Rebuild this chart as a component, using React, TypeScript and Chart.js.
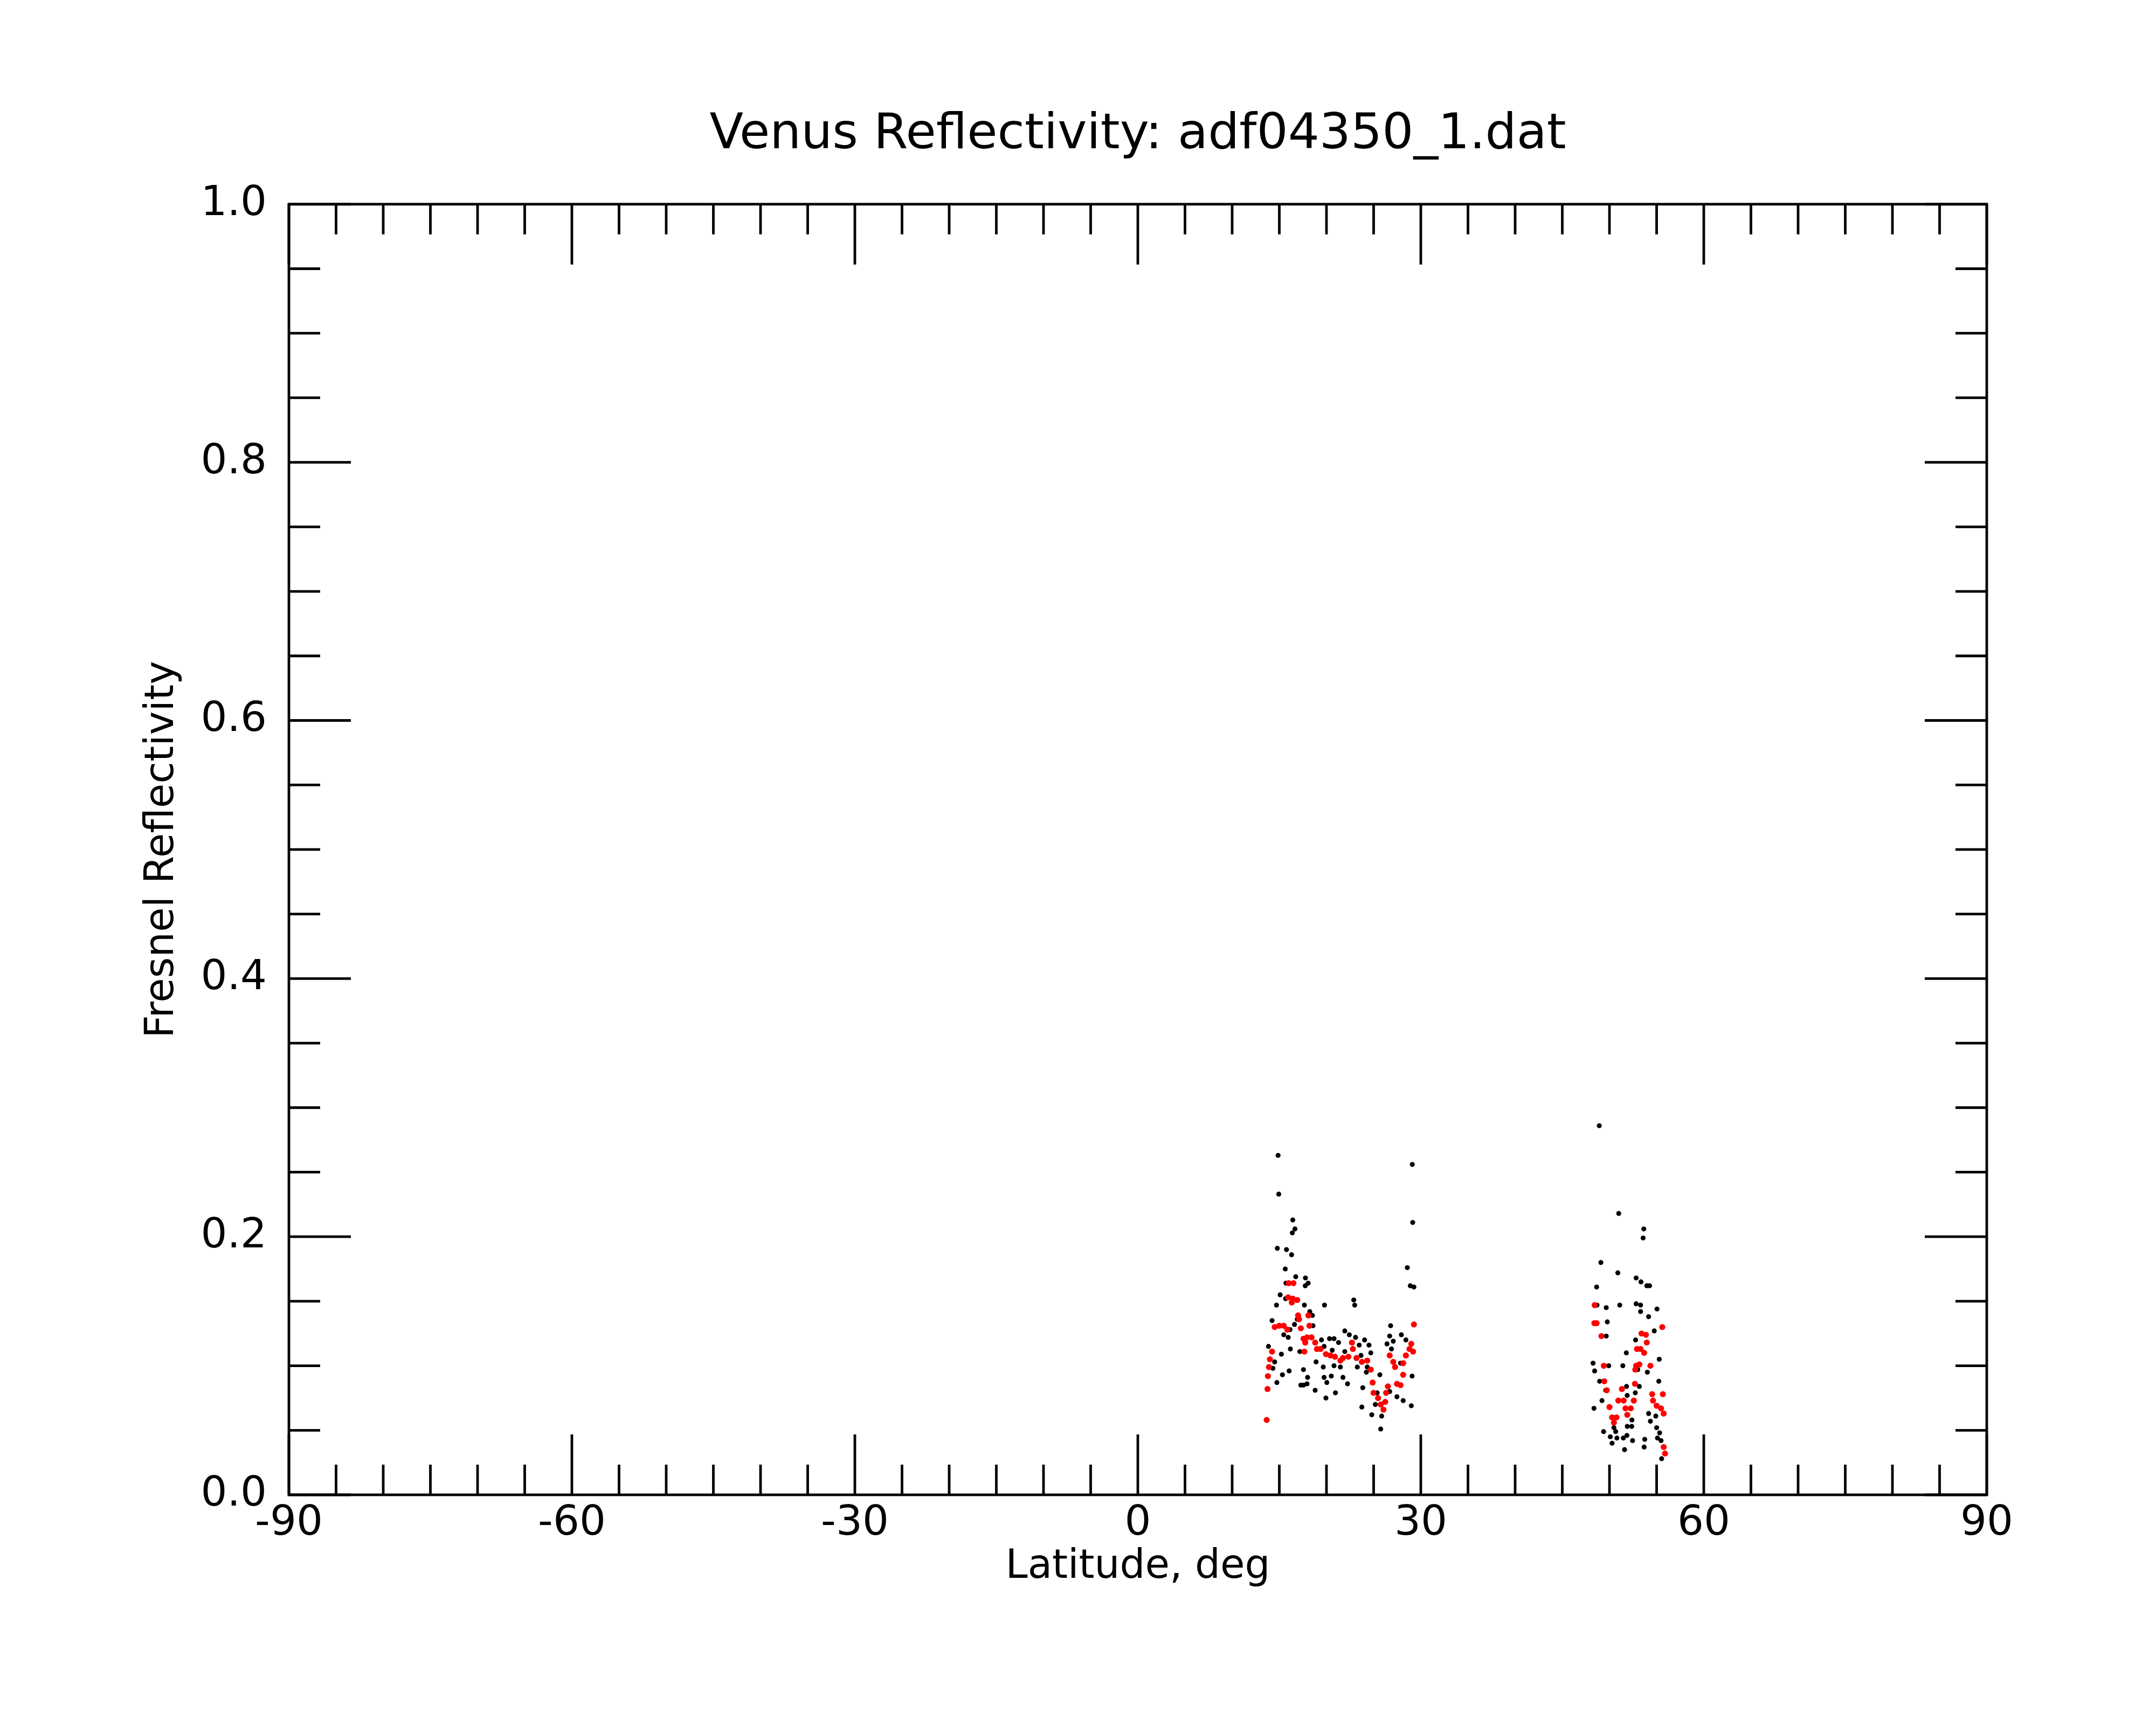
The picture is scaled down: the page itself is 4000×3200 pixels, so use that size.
import React, { useEffect, useRef } from 'react';
import { Chart, registerables } from 'chart.js';

Chart.register(...registerables);

// raw samples (black): latitude (deg) / Fresnel reflectivity
const rawLat = [
  14.87, 14.94, 16.43, 16.66, 16.38, 14.79, 15.76, 16.3, 15.63, 16.74, 17.77, 18.06, 15.7, 17.75,
  29.1, 29.14, 28.57, 28.89, 29.27,
  15.09, 15.66, 14.7, 16.9, 17.66, 19.79, 18.23, 18.51, 16.9, 14.23, 16.61, 18.57, 16.13, 15.47,
  15.94, 19.47, 20.32, 20.8, 21.28, 19.75, 13.85, 15.22, 16.17, 17.18, 20.61, 18.9, 19.66, 20.8,
  21.47, 14.51, 14.32, 16.04, 15.33, 17.56, 18.0, 19.75, 20.51, 20.04, 14.74, 17.56, 17.94, 17.28,
  18.8, 20.95, 19.94,
  22.89, 22.99, 26.8, 21.94, 22.42, 23.08, 24.04, 24.51, 23.47, 26.7, 27.94, 27.08, 28.42, 26.42,
  26.89, 21.94, 24.7, 23.66, 23.27, 24.23, 24.32, 25.66, 21.75, 22.23, 23.85, 29.08, 25.37, 26.7,
  27.47, 28.13, 28.99, 23.75, 25.18, 24.8, 25.85, 25.75, 27.85,
  48.92, 50.98, 53.64, 53.57, 49.09, 50.89, 48.64, 52.83, 53.34, 53.96, 54.25, 49.66, 51.09, 52.83,
  53.3, 53.3, 55.04, 54.15, 49.77, 49.66, 54.75, 52.77, 51.79, 55.28, 48.26, 48.43, 49.92, 51.42,
  54.02, 55.23, 48.96, 53.17, 51.81, 52.74, 49.21, 48.36, 51.88, 54.15, 54.34, 54.91, 52.38, 51.89,
  52.36, 55.0, 55.32, 49.38, 50.09, 50.66, 50.79, 50.28, 51.47, 51.85, 52.45, 53.74, 51.6, 53.68,
  55.09, 55.47, 55.53, 48.68, 49.6, 50.47, 53.0,
];
const rawRefl = [
  0.263, 0.233, 0.213, 0.206, 0.203, 0.191, 0.19, 0.186, 0.175, 0.169, 0.168, 0.164, 0.164, 0.162,
  0.256, 0.211, 0.176, 0.162, 0.161,
  0.155, 0.152, 0.147, 0.151, 0.147, 0.147, 0.142, 0.139, 0.136, 0.135, 0.132, 0.131, 0.128, 0.124,
  0.122, 0.12, 0.121, 0.121, 0.118, 0.115, 0.115, 0.109, 0.113, 0.111, 0.112, 0.103, 0.099, 0.1,
  0.099, 0.103, 0.098, 0.096, 0.093, 0.097, 0.091, 0.091, 0.092, 0.087, 0.087, 0.085, 0.086, 0.085,
  0.081, 0.079, 0.075,
  0.151, 0.147, 0.131, 0.127, 0.124, 0.122, 0.12, 0.116, 0.116, 0.123, 0.124, 0.119, 0.12, 0.117,
  0.113, 0.111, 0.11, 0.108, 0.099, 0.095, 0.099, 0.093, 0.091, 0.086, 0.083, 0.092, 0.079, 0.08,
  0.076, 0.073, 0.069, 0.068, 0.07, 0.062, 0.061, 0.051, 0.102,
  0.286, 0.218, 0.206, 0.199, 0.18, 0.172, 0.161, 0.168, 0.165, 0.162, 0.162, 0.145, 0.147, 0.148,
  0.147, 0.142, 0.144, 0.138, 0.134, 0.123, 0.127, 0.12, 0.11, 0.105, 0.102, 0.096, 0.1, 0.1,
  0.095, 0.088, 0.088, 0.084, 0.084, 0.079, 0.073, 0.067, 0.077, 0.063, 0.057, 0.061, 0.058, 0.053,
  0.053, 0.052, 0.048, 0.049, 0.045, 0.049, 0.044, 0.04, 0.044, 0.046, 0.042, 0.043, 0.035, 0.037,
  0.044, 0.042, 0.028, 0.147, 0.081, 0.052, 0.097,
];

// smoothed samples (red)
const smoothLat = [
  16.0, 16.5, 15.94, 16.42, 16.9, 16.32, 16.99, 18.08, 17.09, 14.51, 14.99, 15.47, 15.85, 17.28,
  18.19, 17.56, 17.94, 18.42, 17.75, 18.8, 18.99, 19.37, 19.94, 20.42, 20.9, 21.47, 14.23, 17.66,
  14.0, 13.9, 13.79, 13.75, 13.66,
  29.27, 22.7, 22.8, 21.75, 22.32, 23.18, 23.75, 24.32, 24.7, 24.89, 24.99, 25.47, 25.75, 26.04,
  26.23, 26.32, 26.51, 26.7, 27.08, 27.27, 28.13, 28.13, 27.47, 27.85, 28.42, 28.8, 28.99, 29.18,
  48.43, 48.64, 48.4, 49.15, 49.4, 49.45, 49.72, 50.0, 50.28, 50.47, 50.75, 51.32, 50.94, 51.51,
  51.7, 51.89, 52.26, 52.58, 52.7, 52.83, 52.74, 53.17, 52.92, 53.3, 53.68, 53.4, 53.87, 53.96,
  54.34, 55.6, 54.53, 55.66, 54.62, 55.0, 55.47, 55.75, 55.75, 55.89,
];
const smoothRefl = [
  0.164, 0.164, 0.153, 0.152, 0.151, 0.149, 0.139, 0.139, 0.136, 0.13, 0.131, 0.131, 0.128, 0.129,
  0.131, 0.121, 0.122, 0.122, 0.118, 0.118, 0.113, 0.113, 0.109, 0.108, 0.107, 0.104, 0.111, 0.111,
  0.105, 0.099, 0.092, 0.082, 0.058,
  0.132, 0.118, 0.113, 0.106, 0.107, 0.106, 0.103, 0.104, 0.097, 0.087, 0.079, 0.075, 0.07, 0.066,
  0.072, 0.079, 0.084, 0.108, 0.103, 0.099, 0.102, 0.093, 0.086, 0.085, 0.108, 0.113, 0.117, 0.111,
  0.147, 0.133, 0.133, 0.123, 0.1, 0.088, 0.081, 0.068, 0.06, 0.056, 0.06, 0.082, 0.073, 0.073,
  0.067, 0.062, 0.067, 0.073, 0.086, 0.1, 0.097, 0.101, 0.113, 0.113, 0.11, 0.125, 0.124, 0.118,
  0.1, 0.13, 0.078, 0.078, 0.073, 0.069, 0.067, 0.063, 0.037, 0.032,
];

const xTickValues = [-90, -60, -30, 0, 30, 60, 90];
const yTickValues = [0, 0.2, 0.4, 0.6, 0.8, 1.0];
const xMinorStep = 5;
const yMinorStep = 0.05;

const FONT = "'DejaVu Sans', sans-serif";

// IDL-style frame: box on all four sides with ticks pointing inwards
const frameTicks = {
  id: 'frameTicks',
  afterDraw(chart: any) {
    const { ctx, chartArea } = chart;
    const { left, right, top, bottom } = chartArea;
    const xs = chart.scales.x;
    const ys = chart.scales.y;
    ctx.save();
    ctx.strokeStyle = '#000';
    ctx.lineWidth = 4.8;
    ctx.beginPath();
    const nx = Math.round((xs.max - xs.min) / xMinorStep);
    for (let i = 0; i <= nx; i++) {
      const v = xs.min + i * xMinorStep;
      const px = xs.getPixelForValue(v);
      const len = xTickValues.includes(v) ? 112 : 56;
      ctx.moveTo(px, bottom);
      ctx.lineTo(px, bottom - len);
      ctx.moveTo(px, top);
      ctx.lineTo(px, top + len);
    }
    const ny = Math.round((ys.max - ys.min) / yMinorStep);
    for (let i = 0; i <= ny; i++) {
      const py = ys.getPixelForValue(ys.min + i * yMinorStep);
      const len = i % 4 === 0 ? 115 : 58;
      ctx.moveTo(left, py);
      ctx.lineTo(left + len, py);
      ctx.moveTo(right, py);
      ctx.lineTo(right - len, py);
    }
    ctx.stroke();
    ctx.strokeRect(left, top, right - left, bottom - top);
    ctx.restore();
  },
};

export default function App() {
  const canvasRef = useRef<HTMLCanvasElement>(null);

  useEffect(() => {
    if (!canvasRef.current) return;
    const raw = rawLat.map((x, i) => ({ x, y: rawRefl[i] }));
    const smooth = smoothLat.map((x, i) => ({ x, y: smoothRefl[i] }));

    const chart = new Chart(canvasRef.current, {
      type: 'scatter',
      data: {
        datasets: [
          {
            label: 'smoothed',
            data: smooth,
            backgroundColor: '#ff0000',
            borderWidth: 0,
            pointRadius: 5.6,
          },
          {
            label: 'raw',
            data: raw,
            backgroundColor: '#000000',
            borderWidth: 0,
            pointRadius: 4.6,
          },
        ],
      },
      options: {
        animation: false,
        responsive: true,
        maintainAspectRatio: false,
        devicePixelRatio: 1,
        layout: { padding: { left: 0, right: 314, top: 0, bottom: 0 } },
        plugins: {
          legend: { display: false },
          tooltip: { enabled: false },
          title: {
            display: true,
            text: 'Venus Reflectivity: adf04350_1.dat',
            fullSize: false,
            color: '#000',
            font: { family: FONT, size: 91.5, weight: 'normal' },
            padding: { top: 196, bottom: 73 },
          },
        },
        scales: {
          x: {
            type: 'linear',
            min: -90,
            max: 90,
            grid: { display: false, drawTicks: false, tickLength: 0 },
            border: { display: false },
            afterBuildTicks: (scale: any) => {
              scale.ticks = xTickValues.map((value) => ({ value }));
            },
            afterFit: (scale: any) => {
              scale.height = 427;
            },
            ticks: {
              autoSkip: false,
              maxRotation: 0,
              padding: 8,
              color: '#000',
              font: { family: FONT, size: 77 },
              callback: (v: any) => String(v),
            },
            title: {
              display: true,
              text: 'Latitude, deg',
              color: '#000',
              font: { family: FONT, size: 74 },
              padding: { top: 0, bottom: 248 },
            },
          },
          y: {
            type: 'linear',
            min: 0,
            max: 1,
            grid: { display: false, drawTicks: false, tickLength: 0 },
            border: { display: false },
            afterBuildTicks: (scale: any) => {
              scale.ticks = yTickValues.map((value) => ({ value }));
            },
            afterFit: (scale: any) => {
              scale.width = 536;
            },
            ticks: {
              autoSkip: false,
              padding: 41,
              color: '#000',
              font: { family: FONT, size: 77 },
              callback: (v: any) => Number(v).toFixed(1),
            },
            title: {
              display: true,
              text: 'Fresnel Reflectivity',
              color: '#000',
              font: { family: FONT, size: 74 },
              padding: { top: 257, bottom: 0 },
            },
          },
        },
      },
      plugins: [frameTicks],
    });

    return () => chart.destroy();
  }, []);

  return (
    <div style={{ position: 'absolute', left: 0, top: 0, width: 4000, height: 3200, background: '#fff' }}>
      <canvas ref={canvasRef} />
    </div>
  );
}
